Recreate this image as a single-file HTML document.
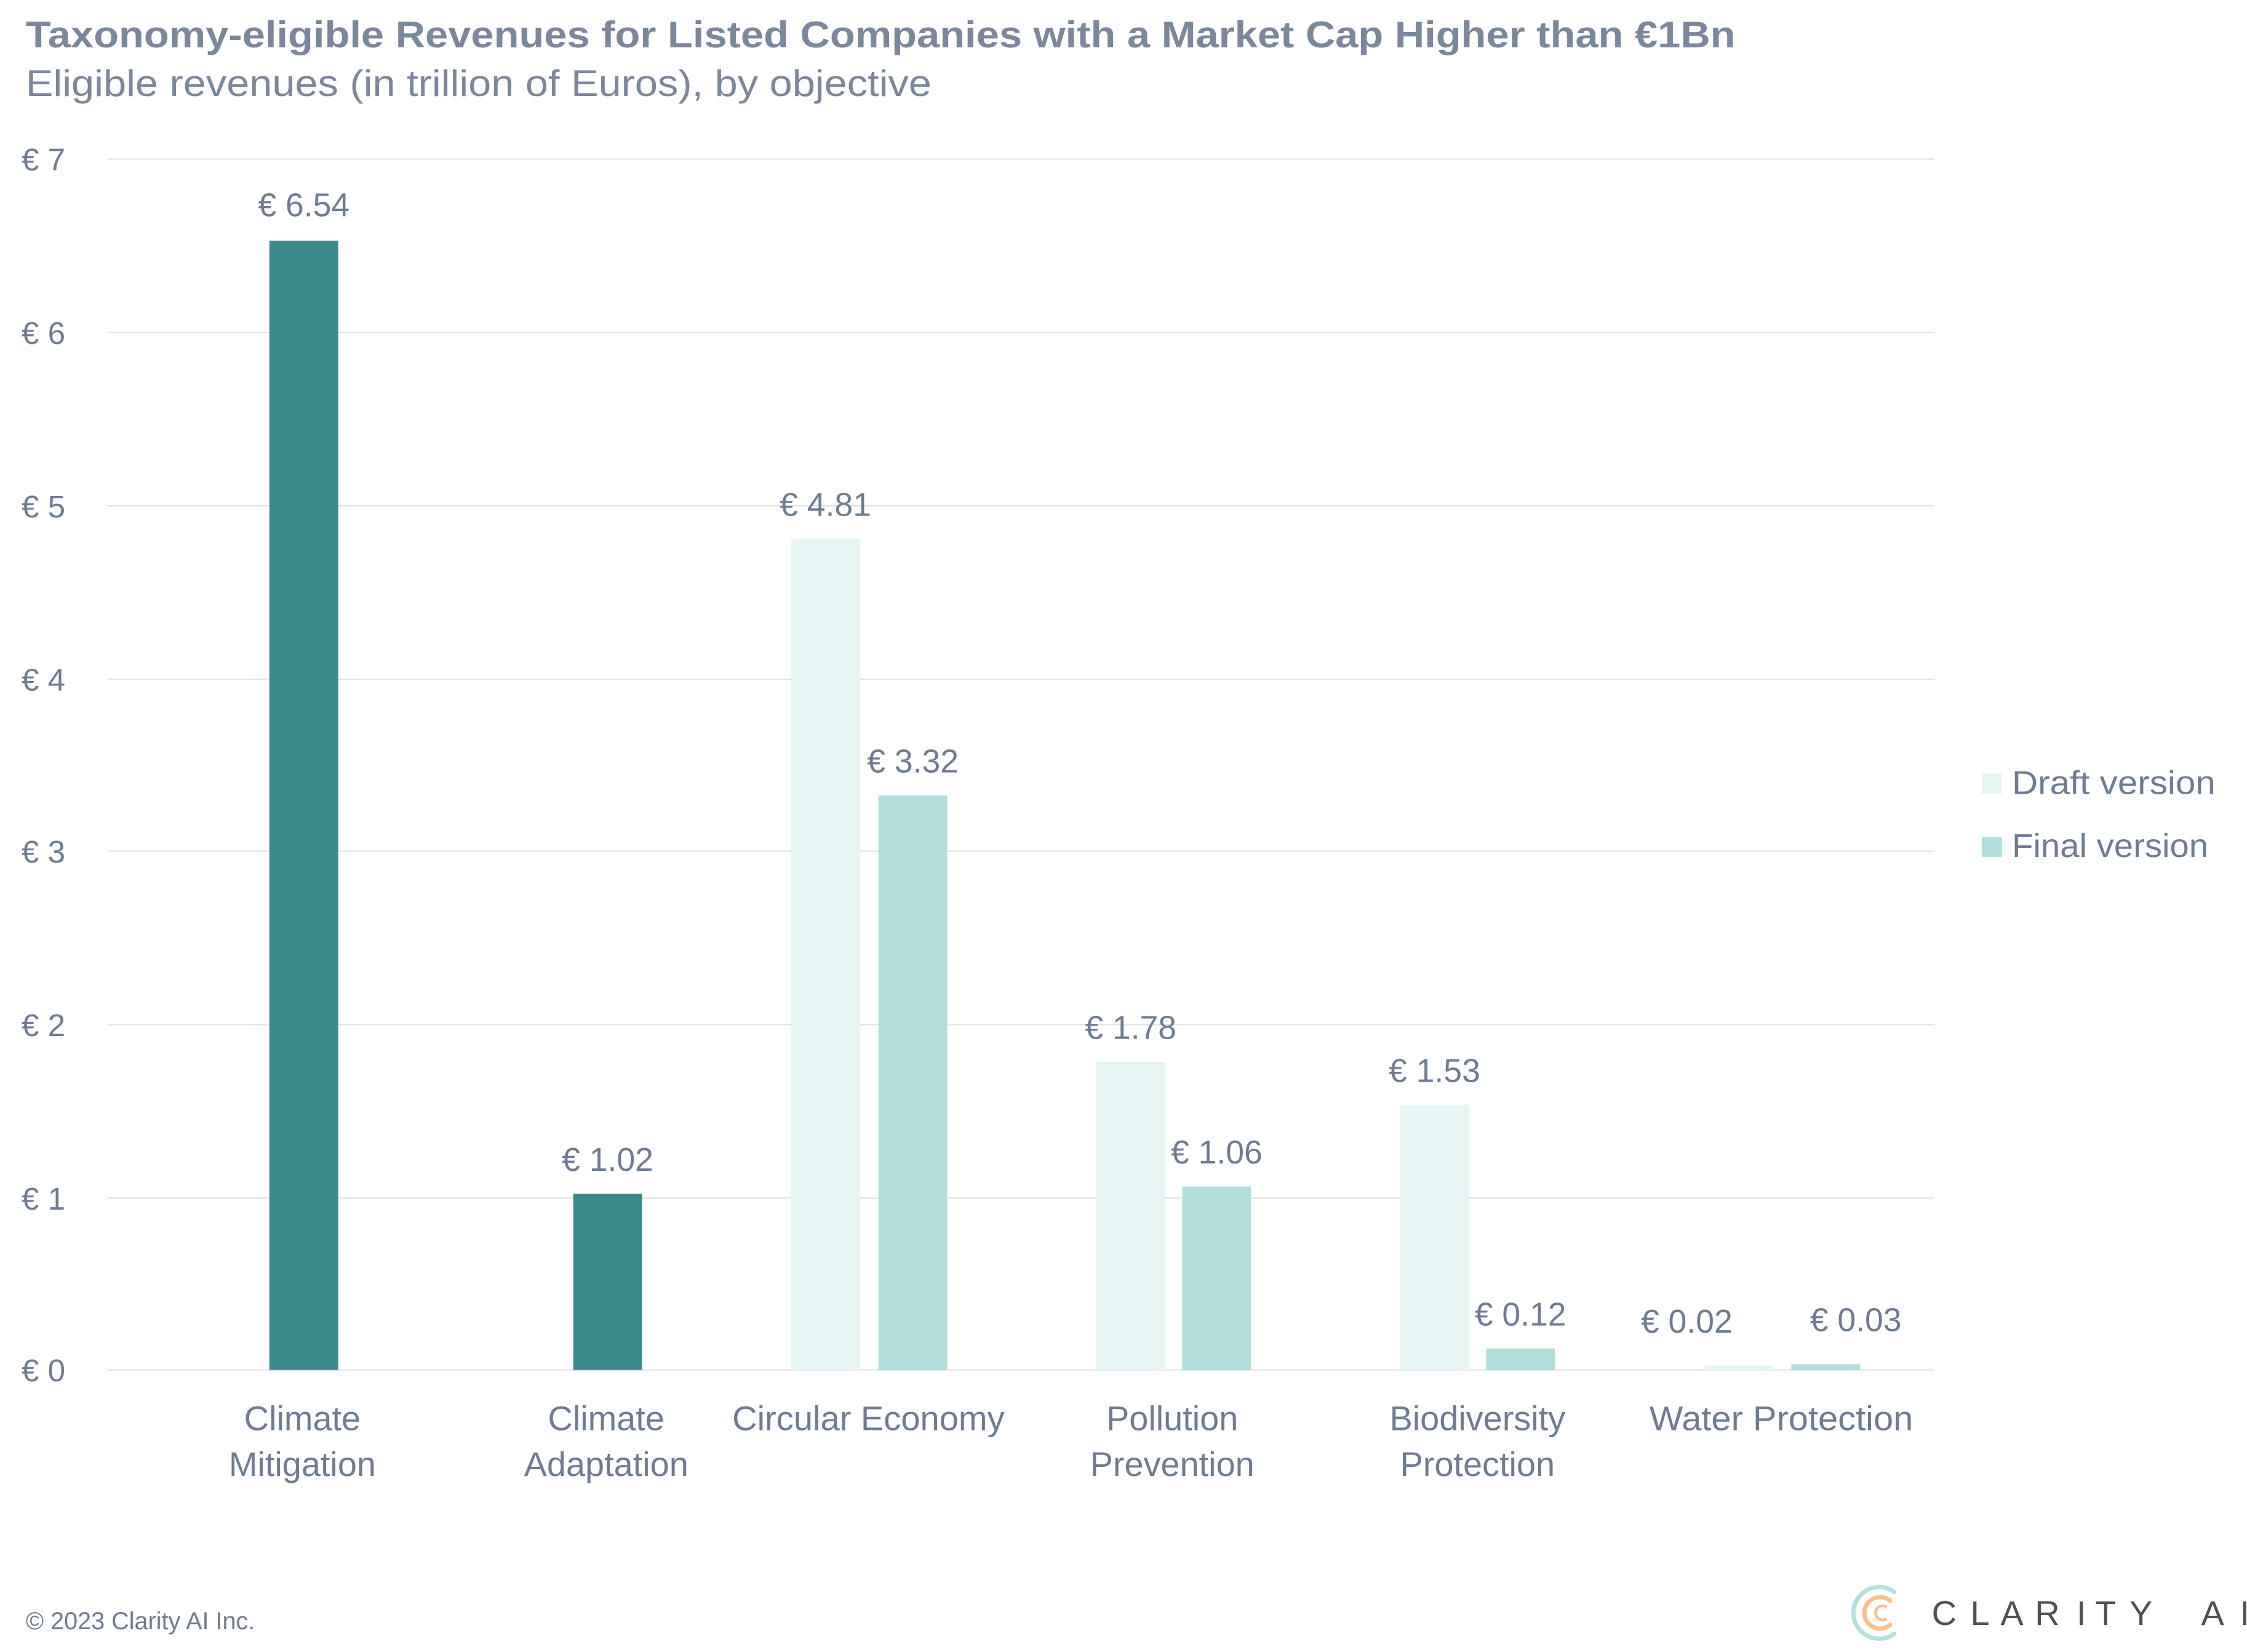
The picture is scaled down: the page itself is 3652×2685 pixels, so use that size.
<!DOCTYPE html>
<html><head><meta charset="utf-8"><style>
html,body{margin:0;padding:0;background:#fff;}
svg{display:block;}
text{font-family:"Liberation Sans",sans-serif;}
</style></head><body>
<svg width="3652" height="2685" viewBox="0 0 1568 1152.8" preserveAspectRatio="none" xmlns="http://www.w3.org/2000/svg">
<rect width="1568" height="1152.8" fill="#fff"/>
<text x="18" y="33" font-size="26" font-weight="bold" fill="#7b879a" textLength="1193" lengthAdjust="spacingAndGlyphs">Taxonomy-eligible Revenues for Listed Companies with a Market Cap Higher than €1Bn</text>
<text x="18" y="67" font-size="26" fill="#7b879a" textLength="632" lengthAdjust="spacingAndGlyphs">Eligible revenues (in trillion of Euros), by objective</text>
<g stroke="#e2e4e8" stroke-width="1">
<line x1="75" x2="1350" y1="111" y2="111"/>
<line x1="75" x2="1350" y1="232" y2="232"/>
<line x1="75" x2="1350" y1="353" y2="353"/>
<line x1="75" x2="1350" y1="474" y2="474"/>
<line x1="75" x2="1350" y1="594" y2="594"/>
<line x1="75" x2="1350" y1="715" y2="715"/>
<line x1="75" x2="1350" y1="836" y2="836"/>
<line x1="75" x2="1350" y1="956" y2="956"/>
</g>
<g font-size="22" fill="#6e7c92">
<text x="15" y="119">€ 7</text><text x="15" y="240">€ 6</text><text x="15" y="361">€ 5</text>
<text x="15" y="482">€ 4</text><text x="15" y="602">€ 3</text><text x="15" y="723">€ 2</text>
<text x="15" y="844">€ 1</text><text x="15" y="964">€ 0</text>
</g>
<rect x="188" y="168" width="48" height="788" fill="#3a8a8c"/>
<rect x="400" y="833" width="48" height="123" fill="#3a8a8c"/>
<rect x="552" y="376" width="48" height="580" fill="#e6f5f4"/>
<rect x="613" y="555" width="48" height="401" fill="#b0dfdb"/>
<rect x="765" y="741" width="48" height="215" fill="#e6f5f4"/>
<rect x="825" y="828" width="48" height="128" fill="#b0dfdb"/>
<rect x="977" y="771" width="48" height="185" fill="#e6f5f4"/>
<rect x="1037" y="941" width="48" height="15" fill="#b0dfdb"/>
<rect x="1189" y="953" width="48" height="3" fill="#e6f5f4"/>
<rect x="1250" y="952" width="48" height="4" fill="#b0dfdb"/>
<g font-size="23" fill="#6e7c92" text-anchor="middle">
<text x="212" y="151">€ 6.54</text>
<text x="424" y="817">€ 1.02</text>
<text x="576" y="360">€ 4.81</text>
<text x="637" y="539">€ 3.32</text>
<text x="789" y="725">€ 1.78</text>
<text x="849" y="812">€ 1.06</text>
<text x="1001" y="755">€ 1.53</text>
<text x="1061" y="925">€ 0.12</text>
<text x="1177" y="930">€ 0.02</text>
<text x="1295" y="929">€ 0.03</text>
</g>
<g font-size="24" fill="#6e7c92" text-anchor="middle">
<text x="211" y="998">Climate</text><text x="211" y="1030">Mitigation</text>
<text x="423" y="998">Climate</text><text x="423" y="1030">Adaptation</text>
<text x="606" y="998" textLength="190" lengthAdjust="spacingAndGlyphs">Circular Economy</text>
<text x="818" y="998">Pollution</text><text x="818" y="1030">Prevention</text>
<text x="1031" y="998">Biodiversity</text><text x="1031" y="1030">Protection</text>
<text x="1243" y="998" textLength="184" lengthAdjust="spacingAndGlyphs">Water Protection</text>
</g>
<rect x="1383" y="540" width="14" height="14" fill="#e6f5f4"/>
<rect x="1383" y="584" width="14" height="14" fill="#b0dfdb"/>
<g font-size="23" fill="#6e7c92">
<text x="1404" y="554" textLength="142" lengthAdjust="spacingAndGlyphs">Draft version</text>
<text x="1404" y="598" textLength="137" lengthAdjust="spacingAndGlyphs">Final version</text>
</g>
<text x="18" y="1137" font-size="17" fill="#6e7c92">© 2023 Clarity AI Inc.</text>
<g fill="none" stroke-linecap="round">
<path d="M1322 1111 A18 18 0 1 0 1322 1140" stroke="#b3e0dc" stroke-width="3"/>
<path d="M1319 1117 A11 11 0 1 0 1319 1134" stroke="#f8c18c" stroke-width="3"/>
<path d="M1316 1121 A5 5 0 1 0 1316 1130" stroke="#f8c18c" stroke-width="2"/>
</g>
<text y="1134" font-size="24" fill="#4a5257"><tspan x="1348">C</tspan><tspan x="1375">L</tspan><tspan x="1396">A</tspan><tspan x="1420">R</tspan><tspan x="1449">I</tspan><tspan x="1462">T</tspan><tspan x="1486">Y</tspan><tspan x="1536">A</tspan><tspan x="1563">I</tspan></text>
</svg>
</body></html>
